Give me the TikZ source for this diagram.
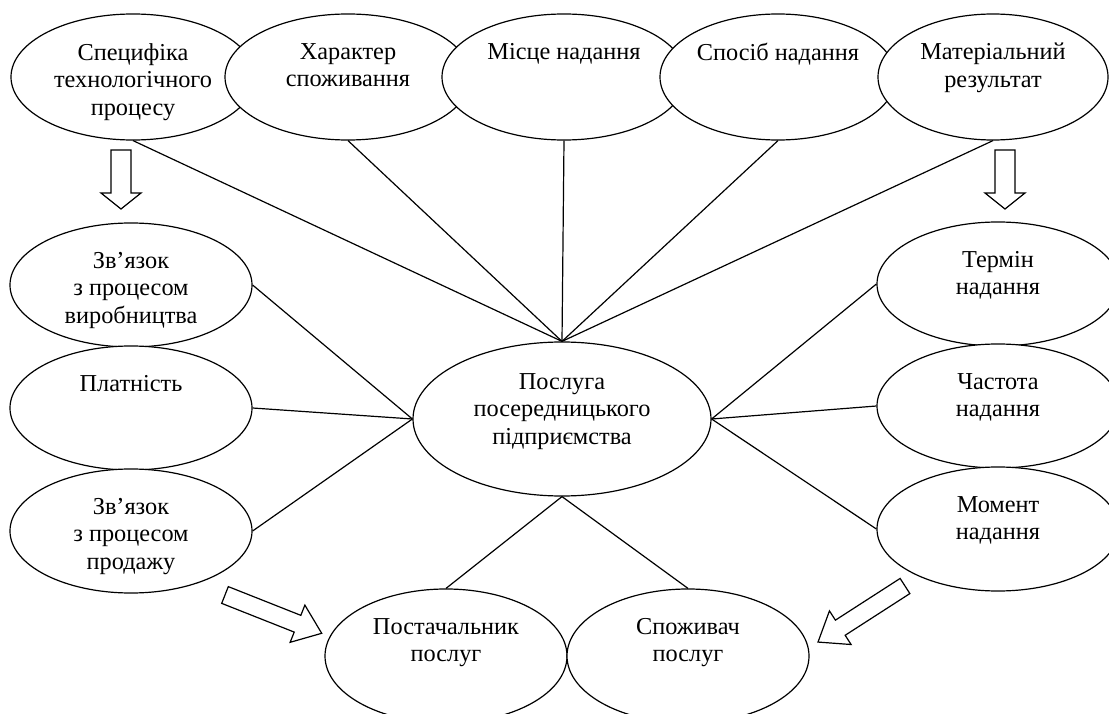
\documentclass[tikz,border=0pt]{standalone}
\usepackage{fontspec}
\setmainfont{Liberation Serif}
\usetikzlibrary{shapes.geometric}
\begin{document}
\begin{tikzpicture}[x=1pt,y=-1pt,
  ell/.style={ellipse, draw, fill=white, line width=1.2pt, inner sep=0pt},
  lbl/.style={anchor=north, align=center, inner sep=0pt, font=\fontsize{24.3}{27.5}\selectfont},
  link/.style={line width=1.2pt},
  blk/.style={draw, fill=white, line width=1.2pt, line join=miter}]
\useasboundingbox (0,0) rectangle (1109,714);
\clip (0,0) rectangle (1109,714);
% top row
\node[ell, minimum width=244pt, minimum height=126pt] (A) at (133,77) {};
\node[lbl] (tA) at (133,43) {Специфіка\\технологічного\\процесу};
\node[ell, minimum width=246pt, minimum height=126pt] (B) at (348,77) {};
\node[lbl] (tB) at (348,43) {Характер\\споживання};
\node[ell, minimum width=244pt, minimum height=126pt] (C) at (564,77) {};
\node[lbl] (tC) at (564,43) {Місце надання};
\node[ell, minimum width=236pt, minimum height=126pt] (D) at (778,77) {};
\node[lbl] (tD) at (778,43) {Спосіб надання};
\node[ell, minimum width=230pt, minimum height=126pt] (E) at (993,77) {};
\node[lbl] (tE) at (993,43) {Матеріальний\\результат};
% left column
\node[ell, minimum width=242pt, minimum height=124pt] (L1) at (131,285) {};
\node[lbl] (tL1) at (131,252) {Зв’язок\\з процесом\\виробництва};
\node[ell, minimum width=242pt, minimum height=124pt] (L2) at (131,408) {};
\node[lbl] (tL2) at (131,375) {Платність};
\node[ell, minimum width=242pt, minimum height=124pt] (L3) at (131,531) {};
\node[lbl] (tL3) at (131,498) {Зв’язок\\з процесом\\продажу};
% right column
\node[ell, minimum width=242pt, minimum height=124pt] (R1) at (998,284) {};
\node[lbl] (tR1) at (998,251) {Термін\\надання};
\node[ell, minimum width=242pt, minimum height=124pt] (R2) at (998,406) {};
\node[lbl] (tR2) at (998,373) {Частота\\надання};
\node[ell, minimum width=242pt, minimum height=124pt] (R3) at (998,529) {};
\node[lbl] (tR3) at (998,496) {Момент\\надання};
% centre
\node[ell, minimum width=298pt, minimum height=154pt] (M) at (562,419) {};
\node[lbl] (tM) at (562,373) {Послуга\\посередницького\\підприємства};
% bottom
\node[ell, minimum width=242pt, minimum height=134pt] (P) at (446,656) {};
\node[lbl] (tP) at (446,618) {Постачальник\\послуг};
\node[ell, minimum width=242pt, minimum height=134pt] (S) at (688,656) {};
\node[lbl] (tS) at (688,618) {Споживач\\послуг};
% connectors
\foreach \n in {A,B,C,D,E} \draw[link] (\n.south) -- (M.north);
\foreach \n in {L1,L2,L3} \draw[link] (\n.east) -- (M.west);
\foreach \n in {R1,R2,R3} \draw[link] (\n.west) -- (M.east);
\foreach \n in {P,S} \draw[link] (M.south) -- (\n.north);
% block arrows
\begin{scope}[shift={(121,150)}, rotate=-90]
  \draw[blk] (0,-10) -- (43,-10) -- (43,-20) -- (59,0) -- (43,20) -- (43,10) -- (0,10) -- cycle;
\end{scope}
\begin{scope}[shift={(1005,150)}, rotate=-90]
  \draw[blk] (0,-10) -- (43,-10) -- (43,-20) -- (59,0) -- (43,20) -- (43,10) -- (0,10) -- cycle;
\end{scope}
\begin{scope}[shift={(225,595)}, rotate=-21.6]
  \draw[blk] (0,-9) -- (78,-9) -- (78,-20) -- (104,0) -- (78,20) -- (78,9) -- (0,9) -- cycle;
\end{scope}
\begin{scope}[shift={(905,586)}, rotate=-147.2]
  \draw[blk] (0,-9) -- (77,-9) -- (77,-20) -- (103.5,0) -- (77,20) -- (77,9) -- (0,9) -- cycle;
\end{scope}
\end{tikzpicture}
\end{document}
